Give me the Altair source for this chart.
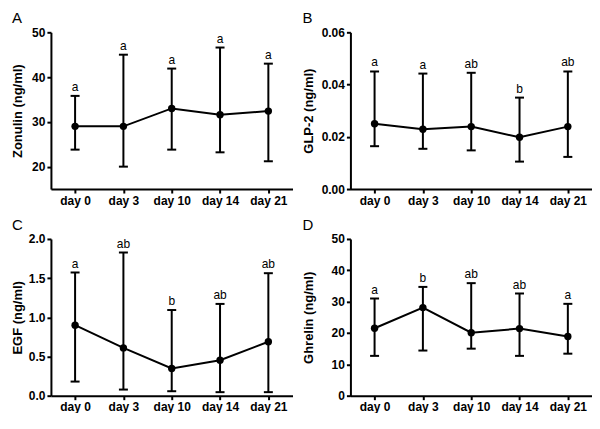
import altair as alt
import pandas as pd

FONT = "Liberation Sans"

days = ["day 0", "day 3", "day 10", "day 14", "day 21"]

zonulin_mean = [29.0, 29.0, 33.0, 31.6, 32.4]
zonulin_low = [23.8, 20.0, 23.8, 23.2, 21.2]
zonulin_high = [35.8, 45.0, 41.9, 46.6, 43.0]
zonulin_sig = ["a", "a", "a", "a", "a"]

glp2_mean = [0.025, 0.0229, 0.0239, 0.0198, 0.0239]
glp2_low = [0.0164, 0.0154, 0.0148, 0.0105, 0.0123]
glp2_high = [0.045, 0.0442, 0.0445, 0.035, 0.045]
glp2_sig = ["a", "a", "ab", "b", "ab"]

egf_mean = [0.90, 0.61, 0.347, 0.453, 0.688]
egf_low = [0.18, 0.078, 0.057, 0.045, 0.045]
egf_high = [1.572, 1.827, 1.093, 1.171, 1.563]
egf_sig = ["a", "ab", "b", "ab", "ab"]

ghrelin_mean = [21.5, 28.1, 20.1, 21.4, 18.9]
ghrelin_low = [12.7, 14.4, 15.0, 12.7, 13.4]
ghrelin_high = [31.0, 34.7, 35.9, 32.6, 29.3]
ghrelin_sig = ["a", "b", "ab", "ab", "a"]

W = 242
H = 157


def panel(letter, ytitle, mean, low, high, sig, domain, ticks, fmt, title_x):
    df = pd.DataFrame({"day": days, "mean": mean, "low": low, "high": high, "sig": sig})
    x_axis = alt.Axis(title=None, labelAngle=0, labelPadding=2)
    x = alt.X("day:N", sort=days, scale=alt.Scale(type="point", padding=0.5), axis=x_axis)
    y_scale = alt.Scale(domain=domain, nice=False, zero=False)
    y_axis = alt.Axis(title=ytitle, values=ticks, format=fmt, titleX=title_x)

    def Y(field):
        return alt.Y(field, type="quantitative", scale=y_scale, axis=y_axis)

    base = alt.Chart(df).encode(x=x)
    rule = base.mark_rule(color="black", strokeWidth=2).encode(y=Y("low"), y2="high")
    cap_hi = base.mark_tick(color="black", thickness=2, size=9, opacity=1).encode(y=Y("high"))
    cap_lo = base.mark_tick(color="black", thickness=2, size=9, opacity=1).encode(y=Y("low"))
    line = base.mark_line(color="black", strokeWidth=2).encode(y=Y("mean"))
    pts = base.mark_circle(color="black", size=55, opacity=1).encode(y=Y("mean"))
    txt = base.mark_text(baseline="bottom", dy=-2, fontSize=12, font=FONT, color="black").encode(
        y=Y("high"), text="sig:N"
    )
    return alt.layer(rule, cap_hi, cap_lo, line, pts, txt).properties(
        width=W,
        height=H,
        title=alt.TitleParams(
            letter, anchor="start", frame="bounds", fontSize=15, fontWeight="normal",
            font=FONT, color="black", offset=0
        ),
    )


pA = panel("A", "Zonulin (ng/ml)", zonulin_mean, zonulin_low, zonulin_high, zonulin_sig,
           [15, 50], [20, 30, 40, 50], "d", -26)
pB = panel("B", "GLP-2 (ng/ml)", glp2_mean, glp2_low, glp2_high, glp2_sig,
           [0, 0.06], [0, 0.02, 0.04, 0.06], ".2f", -35)
pC = panel("C", "EGF (ng/ml)", egf_mean, egf_low, egf_high, egf_sig,
           [0, 2], [0, 0.5, 1.0, 1.5, 2.0], ".1f", -26)
pD = panel("D", "Ghrelin (ng/ml)", ghrelin_mean, ghrelin_low, ghrelin_high, ghrelin_sig,
           [0, 50], [0, 10, 20, 30, 40, 50], "d", -35)

chart = alt.vconcat(
    alt.hconcat(pA, pB, spacing=10),
    alt.hconcat(pC, pD, spacing=10),
    spacing=12,
).properties(
    padding={"left": 4, "top": 3, "right": 0, "bottom": 0}
).configure_view(stroke=None).configure_axis(
    grid=False,
    domainColor="black",
    domainWidth=2,
    tickColor="black",
    tickWidth=2,
    tickSize=4,
    labelFont=FONT,
    labelFontSize=12,
    labelFontWeight="bold",
    labelColor="black",
    titleFont=FONT,
    titleFontSize=13,
    titleFontWeight="bold",
    titleColor="black",
)

chart.save("out.html", embed_options={"renderer": "svg", "actions": False})
